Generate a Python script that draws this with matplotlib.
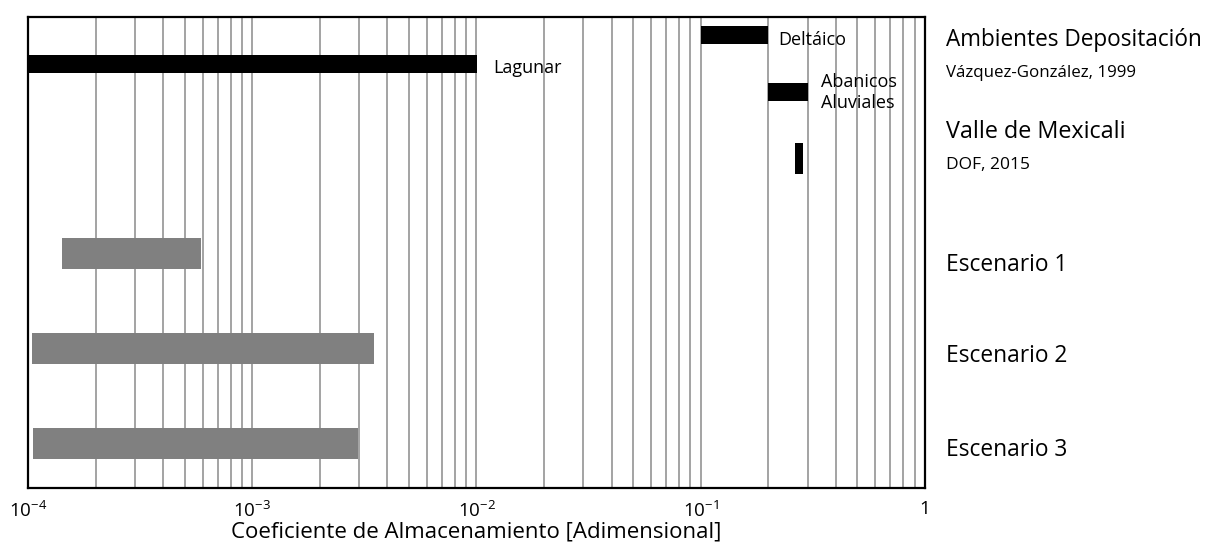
import matplotlib.pyplot as plt
import numpy as np
from matplotlib.ticker import LogLocator, FixedLocator

plt.rcParams['font.family'] = ['Open Sans', 'DejaVu Sans']
plt.rcParams['mathtext.fontset'] = 'custom'
plt.rcParams['mathtext.rm'] = 'Open Sans'
plt.rcParams['mathtext.it'] = 'Open Sans'

# rangos del coeficiente de almacenamiento (inicio, fin)
etiquetas = ['Deltáico', 'Lagunar', 'Abanicos Aluviales', 'Valle de Mexicali',
             'Escenario 1', 'Escenario 2', 'Escenario 3']
s_min = [0.1, 1e-4, 0.2, 0.263, 1.42e-4, 1.04e-4, 1.05e-4]
s_max = [0.2, 1e-2, 0.3, 0.285, 5.9e-4, 3.5e-3, 2.95e-3]
pos_y = [18, 47, 75, 141, 236, 331, 426]
alto = [18, 18, 18, 31, 31, 31, 31]
colores = ['black', 'black', 'black', 'black', '#808080', '#808080', '#808080']

ticks_x = [1e-4, 1e-3, 1e-2, 1e-1, 1]
ticks_txt = [r'$10^{-4}$', r'$10^{-3}$', r'$10^{-2}$', r'$10^{-1}$', '1']

fig = plt.figure(figsize=(12.12, 5.46), dpi=100)
ax = fig.add_axes([28/1212, 1-488/546, 897/1212, 471/546])

ancho = np.array(s_max) - np.array(s_min)
ax.barh(pos_y, ancho, left=s_min, height=alto, color=colores, zorder=3)

ax.set_xscale('log')
ax.set_xlim(1e-4, 1)
ax.set_ylim(471, 0)
ax.set_yticks([])
ax.xaxis.set_major_locator(FixedLocator(ticks_x))
ax.set_xticklabels(ticks_txt, fontsize=13.5)
ax.xaxis.set_minor_locator(LogLocator(base=10, subs=np.arange(2, 10)))
ax.tick_params(axis='x', which='both', length=0, pad=9)
ax.grid(True, which='both', axis='x', color='#a3a3a3', linewidth=1.4, zorder=0)
for s in ax.spines.values():
    s.set_linewidth(1.6)
ax.set_xlabel('Coeficiente de Almacenamiento [Adimensional]', fontsize=16)
ax.xaxis.set_label_coords(0.5, -0.093)
ax.xaxis.label.set_va('center')

# etiquetas de barras
ax.text(0.0119, 51, 'Lagunar', fontsize=13, va='center', zorder=4)
ax.text(0.221, 23, 'Deltáico', fontsize=13, va='center', zorder=4)
ax.text(0.344, 65, 'Abanicos', fontsize=13, va='center', zorder=4)
ax.text(0.344, 86, 'Aluviales', fontsize=13, va='center', zorder=4)

# etiquetas a la derecha
tr = ax.get_yaxis_transform()
x1 = 1 + 21/897
ax.text(x1, 23, 'Ambientes Depositación', transform=tr, fontsize=16.3, va='center')
ax.text(x1, 56, 'Vázquez-González, 1999', transform=tr, fontsize=12.2, va='center')
ax.text(x1, 115, 'Valle de Mexicali', transform=tr, fontsize=16.8, va='center')
ax.text(x1, 148, 'DOF, 2015', transform=tr, fontsize=12.5, va='center')
ax.text(x1, 248, 'Escenario 1', transform=tr, fontsize=16.4, va='center')
ax.text(x1, 339, 'Escenario 2', transform=tr, fontsize=16.4, va='center')
ax.text(x1, 433, 'Escenario 3', transform=tr, fontsize=16.4, va='center')

fig.savefig('out.png', dpi=100)
